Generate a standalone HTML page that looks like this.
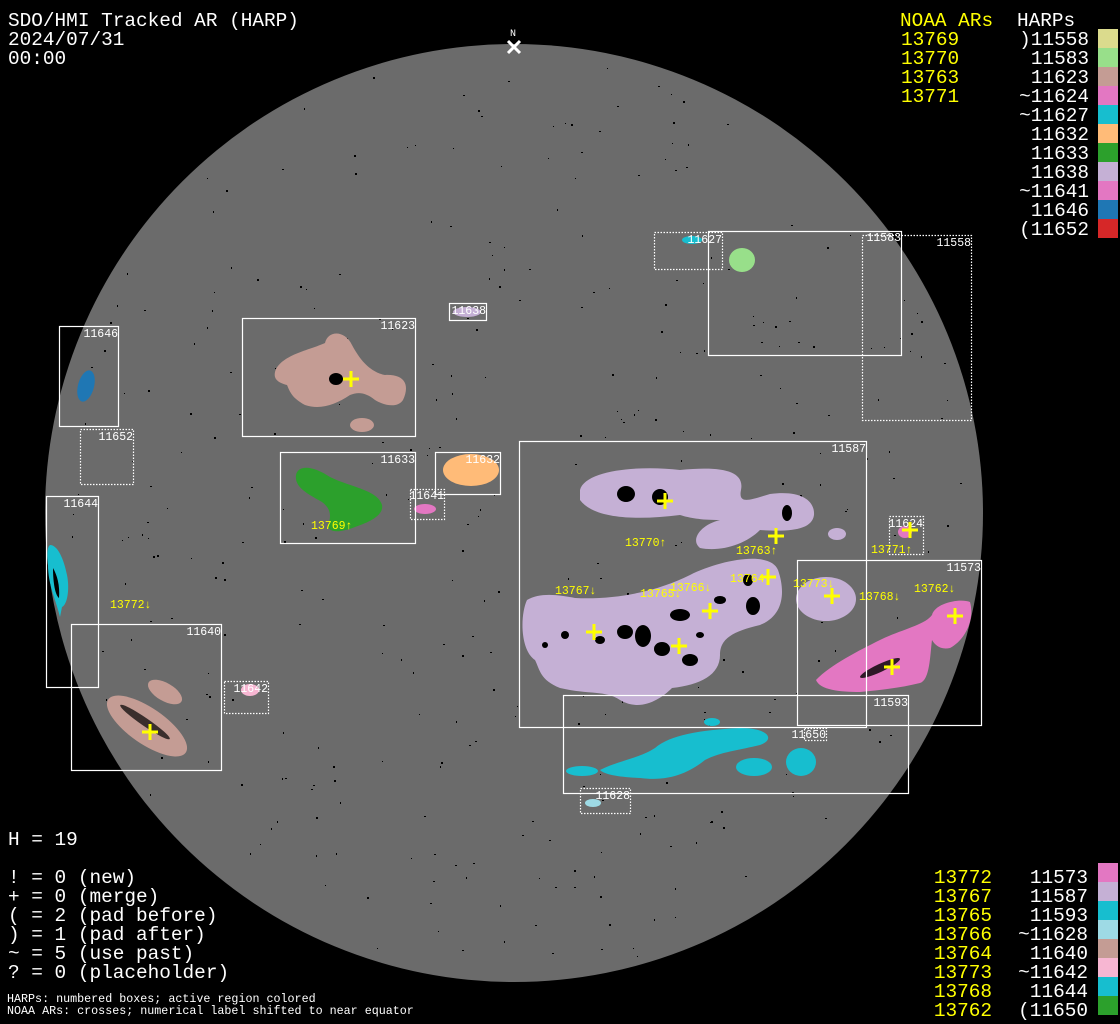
<!DOCTYPE html>
<html><head><meta charset="utf-8"><style>
html,body{margin:0;padding:0;background:#000;}
svg{display:block;}
.t{font-family:"Liberation Mono","DejaVu Sans Mono",monospace;}
</style></head><body>
<svg id="s" width="1120" height="1024" viewBox="0 0 1120 1024" xmlns="http://www.w3.org/2000/svg">
<rect width="1120" height="1024" fill="#000"/>
<circle cx="514" cy="513" r="469" fill="#6b6b6b"/>
<g id="specks" fill="#000"></g>

<g>
<ellipse cx="86" cy="386" rx="8" ry="16" transform="rotate(15 86 386)" fill="#1f77b4"/>
<path d="M50,545 C58,545 64,560 67,575 C70,590 67,605 62,607 L60,617 C56,600 48,585 48,565 C47,555 47,547 50,545 Z" fill="#17becf"/>
<path d="M53,568 C57,575 60,585 59,598 C55,595 53,582 53,568 Z" fill="#000"/>
<ellipse cx="147" cy="726" rx="47" ry="18" transform="rotate(34.5 147 726)" fill="#c49c94"/>
<ellipse cx="165" cy="692" rx="19" ry="9" transform="rotate(30 165 692)" fill="#c49c94"/>
<ellipse cx="145" cy="722" rx="30" ry="4" transform="rotate(34.5 145 722)" fill="#000" fill-opacity=".7"/>
<ellipse cx="250" cy="690" rx="9" ry="6" fill="#f7b6d2"/>
<path d="M275,372 C280,355 310,350 325,343 C328,330 345,330 352,345 C360,360 370,372 385,375 C405,374 410,385 403,400 C398,408 385,406 375,400 C365,392 358,392 350,395 C335,405 320,410 305,405 C292,398 290,392 287,385 C275,382 274,377 275,372 Z" fill="#c49c94"/>
<ellipse cx="336" cy="379" rx="7" ry="6" fill="#000"/>
<ellipse cx="362" cy="425" rx="12" ry="7" fill="#c49c94"/>
<ellipse cx="467" cy="312" rx="14" ry="5" fill="#c5b0d5"/>
<path d="M296,475 C298,465 312,465 330,477 C350,487 378,490 382,505 C384,515 370,522 355,527 C340,533 328,533 328,525 C332,515 330,508 322,502 C310,495 294,488 296,475 Z" fill="#2ca02c"/>
<ellipse cx="471" cy="470" rx="28" ry="16" fill="#ffbb78"/>
<ellipse cx="425" cy="509" rx="11" ry="5" fill="#e377c2"/>
<ellipse cx="692" cy="240" rx="10" ry="4" fill="#17becf"/>
<ellipse cx="742" cy="260" rx="13" ry="12" fill="#98df8a"/>
<path d="M580,490 C585,470 640,465 680,470 C720,466 745,470 741,490 C738,505 750,500 770,494 C800,490 815,500 814,515 C812,530 790,532 760,530 C745,545 720,552 700,548 C690,540 700,525 720,520 C700,520 690,518 680,515 C640,520 595,520 580,500 Z" fill="#c5b0d5"/>
<ellipse cx="660" cy="497" rx="8" ry="8" fill="#000"/>
<ellipse cx="626" cy="494" rx="9" ry="8" fill="#000"/>
<ellipse cx="787" cy="513" rx="5" ry="8" fill="#000"/>
<ellipse cx="837" cy="534" rx="9" ry="6" fill="#c5b0d5"/>
<path d="M527,600 C540,592 560,595 575,598 C620,600 660,590 690,575 C720,560 770,550 778,570 C785,590 785,615 760,625 C730,632 720,640 720,655 C720,675 700,685 672,688 C660,700 640,712 620,700 C605,690 590,695 560,688 C540,680 540,670 535,660 C520,650 520,615 527,600 Z" fill="#c5b0d5"/>
<g fill="#000">
<ellipse cx="643" cy="636" rx="8" ry="11"/><ellipse cx="662" cy="649" rx="8" ry="7"/><ellipse cx="690" cy="660" rx="8" ry="6"/><ellipse cx="625" cy="632" rx="8" ry="7"/><ellipse cx="753" cy="606" rx="7" ry="9"/><ellipse cx="680" cy="615" rx="10" ry="6"/><ellipse cx="748" cy="580" rx="5" ry="6"/>
<ellipse cx="600" cy="640" rx="5" ry="4"/><ellipse cx="565" cy="635" rx="4" ry="4"/><ellipse cx="720" cy="600" rx="6" ry="4"/><ellipse cx="700" cy="635" rx="4" ry="3"/><ellipse cx="545" cy="645" rx="3" ry="3"/>
</g>
<ellipse cx="826" cy="599" rx="30" ry="22" fill="#c5b0d5"/>
<ellipse cx="905" cy="532" rx="7" ry="6" fill="#e377c2"/>
<path d="M816,680 C830,665 860,650 880,640 C900,630 925,625 932,615 C935,603 960,598 970,602 C975,620 965,640 950,648 C940,650 935,645 932,640 C930,655 930,680 920,683 C900,688 880,690 860,692 C840,692 820,690 816,680 Z" fill="#e377c2"/>
<ellipse cx="880" cy="668" rx="22" ry="4" transform="rotate(-25 880 668)" fill="#000" fill-opacity=".8"/>
<path d="M600,770 C620,760 640,758 655,748 C670,735 700,730 740,728 C770,728 775,740 760,745 C740,750 720,752 705,760 C690,772 670,782 640,778 C620,777 605,775 600,770 Z" fill="#17becf"/>
<ellipse cx="582" cy="771" rx="16" ry="5" fill="#17becf"/>
<ellipse cx="754" cy="767" rx="18" ry="9" fill="#17becf"/>
<ellipse cx="801" cy="762" rx="15" ry="14" fill="#17becf"/>
<ellipse cx="712" cy="722" rx="8" ry="4" fill="#17becf"/>
<ellipse cx="593" cy="803" rx="8" ry="4" fill="#9edae5"/>
</g>

<g fill="none" stroke="#fff" stroke-width="1.2">
<rect x="59.5" y="326.5" width="59" height="100"/>
<rect x="80.5" y="429.5" width="53" height="55" stroke-dasharray="1.5,1.5"/>
<rect x="46.5" y="496.5" width="52" height="191"/>
<rect x="71.5" y="624.5" width="150" height="146"/>
<rect x="224.5" y="681.5" width="44" height="32" stroke-dasharray="1.5,1.5"/>
<rect x="242.5" y="318.5" width="173" height="118"/>
<rect x="449.5" y="303.5" width="37" height="17"/>
<rect x="280.5" y="452.5" width="135" height="91"/>
<rect x="435.5" y="452.5" width="65" height="42"/>
<rect x="410.5" y="489.5" width="34" height="30" stroke-dasharray="1.5,1.5"/>
<rect x="654.5" y="232.5" width="68" height="37" stroke-dasharray="1.5,1.5"/>
<rect x="708.5" y="231.5" width="193" height="124"/>
<rect x="862.5" y="235.5" width="109" height="185" stroke-dasharray="1.5,1.5"/>
<rect x="519.5" y="441.5" width="347" height="286"/>
<rect x="889.5" y="516.5" width="34" height="38" stroke-dasharray="1.5,1.5"/>
<rect x="797.5" y="560.5" width="184" height="165"/>
<rect x="563.5" y="695.5" width="345" height="98"/>
<rect x="804.5" y="728.5" width="22" height="12" stroke-dasharray="1.5,1.5"/>
<rect x="580.5" y="788.5" width="50" height="25" stroke-dasharray="1.5,1.5"/>
</g>
<g class="t" fill="#fff" font-size="11.5" text-anchor="end">
<text x="118" y="337">11646</text>
<text x="133" y="440">11652</text>
<text x="98" y="507">11644</text>
<text x="221" y="635">11640</text>
<text x="268" y="692">11642</text>
<text x="415" y="329">11623</text>
<text x="486" y="314">11638</text>
<text x="415" y="463">11633</text>
<text x="500" y="463">11632</text>
<text x="444" y="499">11641</text>
<text x="722" y="243">11627</text>
<text x="901" y="241">11583</text>
<text x="971" y="246">11558</text>
<text x="866" y="452">11587</text>
<text x="923" y="527">11624</text>
<text x="981" y="571">11573</text>
<text x="908" y="706">11593</text>
<text x="826" y="738">11650</text>
<text x="630" y="799">11628</text>
</g>

<g stroke="#ff0" stroke-width="3" id="cr"></g>
<g class="t" fill="#ff0" font-size="11.5">
<text x="311" y="529">13769↑</text>
<text x="110" y="608">13772↓</text>
<text x="625" y="546">13770↑</text>
<text x="736" y="554">13763↑</text>
<text x="555" y="594">13767↓</text>
<text x="640" y="597">13765↓</text>
<text x="670" y="591">13766↓</text>
<text x="730" y="582">13764</text>
<text x="793" y="587">13773↓</text>
<text x="859" y="600">13768↓</text>
<text x="914" y="592">13762↓</text>
<text x="871" y="553">13771↑</text>
</g>

<text class="t" x="513" y="36" fill="#fff" font-size="10" text-anchor="middle">N</text>
<path d="M508,41 L520,53 M520,41 L508,53" stroke="#fff" stroke-width="3"/>

<g class="t" fill="#fff" font-size="19.4">
<text x="8" y="26">SDO/HMI Tracked AR (HARP)</text>
<text x="8" y="45">2024/07/31</text>
<text x="8" y="64">00:00</text>
<text x="8" y="845">H = 19</text>
<text x="8" y="883">! = 0 (new)</text>
<text x="8" y="902">+ = 0 (merge)</text>
<text x="8" y="921">( = 2 (pad before)</text>
<text x="8" y="940">) = 1 (pad after)</text>
<text x="8" y="959">~ = 5 (use past)</text>
<text x="8" y="978">? = 0 (placeholder)</text>
</g>
<g class="t" fill="#fff" font-size="11.7">
<text x="7" y="1002">HARPs: numbered boxes; active region colored</text>
<text x="7" y="1014">NOAA ARs: crosses; numerical label shifted to near equator</text>
</g>
<g class="t" font-size="19.4">
<text x="900" y="26" fill="#ff0">NOAA ARs</text>
<text x="1017" y="26" fill="#fff">HARPs</text>
<g fill="#ff0">
<text x="901" y="45">13769</text><text x="901" y="64">13770</text><text x="901" y="83">13763</text><text x="901" y="102">13771</text>
</g>
<g fill="#fff" text-anchor="end">
<text x="1089" y="45">)11558</text><text x="1089" y="64">11583</text><text x="1089" y="83">11623</text><text x="1089" y="102">~11624</text>
<text x="1089" y="121">~11627</text><text x="1089" y="140">11632</text><text x="1089" y="159">11633</text><text x="1089" y="178">11638</text>
<text x="1089" y="197">~11641</text><text x="1089" y="216">11646</text><text x="1089" y="235">(11652</text>
</g>
<g fill="#ff0" text-anchor="end">
<text x="992" y="883">13772</text><text x="992" y="902">13767</text><text x="992" y="921">13765</text><text x="992" y="940">13766</text>
<text x="992" y="959">13764</text><text x="992" y="978">13773</text><text x="992" y="997">13768</text><text x="992" y="1016">13762</text>
</g>
<g fill="#fff" text-anchor="end">
<text x="1088" y="883">11573</text><text x="1088" y="902">11587</text><text x="1088" y="921">11593</text><text x="1088" y="940">~11628</text>
<text x="1088" y="959">11640</text><text x="1088" y="978">~11642</text><text x="1088" y="997">11644</text><text x="1088" y="1016">(11650</text>
</g>
</g>
<g>
<rect x="1098" y="29" width="20" height="19" fill="#dbdb8d"/>
<rect x="1098" y="48" width="20" height="19" fill="#98df8a"/>
<rect x="1098" y="67" width="20" height="19" fill="#c49c94"/>
<rect x="1098" y="86" width="20" height="19" fill="#e377c2"/>
<rect x="1098" y="105" width="20" height="19" fill="#17becf"/>
<rect x="1098" y="124" width="20" height="19" fill="#ffbb78"/>
<rect x="1098" y="143" width="20" height="19" fill="#2ca02c"/>
<rect x="1098" y="162" width="20" height="19" fill="#c5b0d5"/>
<rect x="1098" y="181" width="20" height="19" fill="#e377c2"/>
<rect x="1098" y="200" width="20" height="19" fill="#1f77b4"/>
<rect x="1098" y="219" width="20" height="19" fill="#d62728"/>
<rect x="1098" y="863" width="20" height="19" fill="#e377c2"/>
<rect x="1098" y="882" width="20" height="19" fill="#c5b0d5"/>
<rect x="1098" y="901" width="20" height="19" fill="#17becf"/>
<rect x="1098" y="920" width="20" height="19" fill="#9edae5"/>
<rect x="1098" y="939" width="20" height="19" fill="#c49c94"/>
<rect x="1098" y="958" width="20" height="19" fill="#f7b6d2"/>
<rect x="1098" y="977" width="20" height="19" fill="#17becf"/>
<rect x="1098" y="996" width="20" height="19" fill="#2ca02c"/>
</g>
</svg>
<script>
(function(){
var NS="http://www.w3.org/2000/svg";
var cr=document.getElementById("cr");
[[351,379],[150,732],[665,501],[776,536],[768,577],[710,611],[679,646],[594,632],[832,596],[955,616],[892,667],[910,530]].forEach(function(p){
var a=document.createElementNS(NS,"path");
a.setAttribute("d","M"+(p[0]-8)+","+p[1]+"h16M"+p[0]+","+(p[1]-8)+"v16");
cr.appendChild(a);});
var g=document.getElementById("specks");var s=12345;
function r(){s=(s*1103515245+12345)%2147483648;return s/2147483648;}
for(var i=0;i<500;i++){var x=45+r()*940,y=44+r()*940;var dx=x-514,dy=y-513;if(dx*dx+dy*dy>460*460)continue;
var e=document.createElementNS(NS,"rect");e.setAttribute("x",x.toFixed(0));e.setAttribute("y",y.toFixed(0));
e.setAttribute("width",1+Math.floor(r()*2));e.setAttribute("height",1+Math.floor(r()*2));g.appendChild(e);}
})();
</script>
</body></html>
